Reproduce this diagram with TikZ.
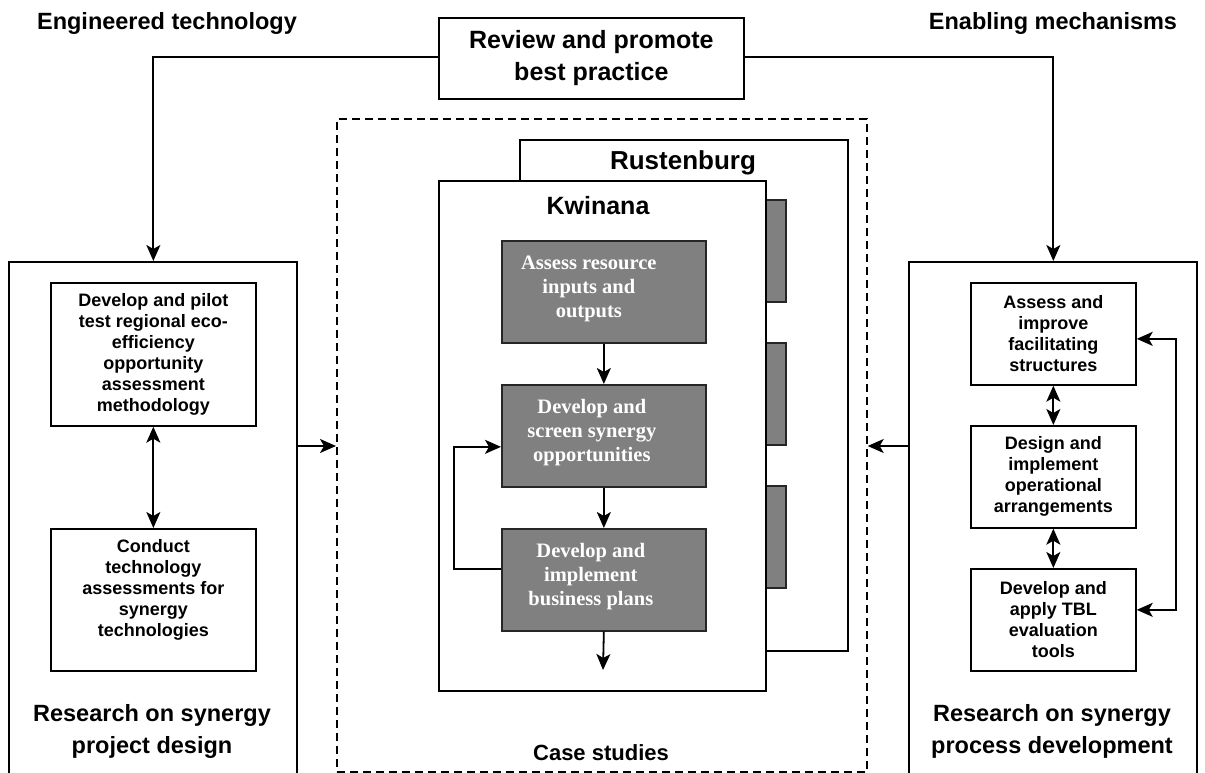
\documentclass[tikz,border=0pt]{standalone}
\usepackage{fontspec}
\setmainfont{Liberation Sans}
\newfontfamily\timesf{Liberation Serif}
\usetikzlibrary{arrows.meta}
\definecolor{boxgrey}{RGB}{128,128,128}
\newcommand\bodyf{\fontsize{18}{21}\selectfont\bfseries}
\newcommand\headf{\fontsize{23.5}{32}\selectfont\bfseries}
\newcommand\greyf{\fontsize{20.5}{24}\selectfont\timesf\bfseries}
\begin{document}
\begin{tikzpicture}[x=1pt,y=-1pt,
  box/.style={draw, line width=1.7pt, fill=white, align=center, font=\bodyf, inner sep=0pt, anchor=north west},
  frame/.style={draw, line width=1.6pt, fill=white, inner sep=0pt, anchor=north west},
  gbox/.style={draw=black!85, line width=1.7pt, fill=boxgrey, inner sep=0pt, anchor=north west, minimum width=204pt, minimum height=102pt},
  gtext/.style={text=white, align=center, font=\greyf, inner sep=0pt},
  tab/.style={draw=black!85, line width=1.7pt, fill=boxgrey},
  lbl/.style={font=\headf, align=center, inner sep=0pt},
  arr/.style={-{Stealth[length=16pt,width=14pt,inset=4pt]}, line width=1.8pt},
  darr/.style={{Stealth[length=16pt,width=14pt,inset=4pt]}-{Stealth[length=16pt,width=14pt,inset=4pt]}, line width=1.8pt}]
\useasboundingbox (0,0) rectangle (1205,773);

% headings
\node[lbl] (eng) at (167,23) {Engineered technology};
\node[lbl] (ena) at (1053,23) {Enabling mechanisms};
\node[box, minimum width=305pt, minimum height=81pt, font=\fontsize{25}{32}\selectfont\bfseries] (rev) at (438,17) {Review and promote\\best practice};

% case studies dashed frame
\node[draw, dash pattern=on 8pt off 5pt, line width=1.7pt, minimum width=530pt, minimum height=653pt, inner sep=0pt, anchor=north west] (cs) at (336,118) {};
\node[lbl, font=\fontsize{22}{28}\selectfont\bfseries] (cst) at (601,753) {Case studies};

% Rustenburg
\node[frame, minimum width=328pt, minimum height=511pt] (rus) at (519,139) {};
\node[lbl, font=\fontsize{26}{30}\selectfont\bfseries] (rust) at (683,163) {Rustenburg};
\draw[tab] (740,200) rectangle (786,302);
\draw[tab] (740,343) rectangle (786,445);
\draw[tab] (740,486) rectangle (786,588);

% Kwinana
\node[frame, minimum width=327pt, minimum height=510pt] (kwi) at (438,180) {};
\node[lbl, font=\fontsize{25}{30}\selectfont\bfseries] (kwit) at (598,206) {Kwinana};
\node[gbox] (g1) at (501,240) {};
\node[gtext] (g1t) at ([xshift=-15pt,yshift=3pt]g1.center) {Assess resource\\inputs and\\outputs};
\node[gbox] (g2) at (501,384) {};
\node[gtext] (g2t) at ([xshift=-12pt,yshift=3pt]g2.center) {Develop and\\screen synergy\\opportunities};
\node[gbox] (g3) at (501,528) {};
\node[gtext] (g3t) at ([xshift=-13pt,yshift=3pt]g3.center) {Develop and\\implement\\business plans};
\coordinate (gend) at (603,670);
\draw[arr] (g1.south) -- (g2.north);
\draw[arr] (g2.south) -- (g3.north);
\draw[arr] (g3.south) -- (gend);
\draw[arr] ([yshift=11pt]g3.west) -- ++(-47,0) |- ([yshift=-11pt]g2.west);

% left column
\node[frame, minimum width=288pt, minimum height=520pt] (lo) at (8,261) {};
\node[box, minimum width=205pt, minimum height=143pt] (l1) at (50,282) {Develop and pilot\\test regional eco-\\efficiency\\opportunity\\assessment\\methodology};
\node[box, minimum width=205pt, minimum height=142pt] (l2) at (50,528) {Conduct\\technology\\assessments for\\synergy\\technologies\\[2pt]};
\node[lbl] (lt) at (152,731) {Research on synergy\\project design};
\draw[darr] (l1.south) -- (l2.north);

% right column
\node[frame, minimum width=288pt, minimum height=520pt] (ro) at (908,261) {};
\node[box, minimum width=165pt, minimum height=102pt] (r1) at (970,282) {Assess and\\improve\\facilitating\\structures};
\node[box, minimum width=165pt, minimum height=102pt] (r2) at (970,425) {Design and\\implement\\operational\\arrangements};
\node[box, minimum width=165pt, minimum height=102pt] (r3) at (970,568) {Develop and\\apply TBL\\evaluation\\tools};
\node[lbl] (rt) at (1052,731) {Research on synergy\\process development};
\draw[darr] (r1.south) -- (r2.north);
\draw[darr] (r2.south) -- (r3.north);
\draw[darr] ([yshift=-5pt]r1.east) -- ++(39,0) |- ([yshift=10pt]r3.east);

% top connectors
\draw[arr] ([yshift=-40pt]rev.north west) -| (lo.north -| l1.north);
\draw[arr] ([yshift=-40pt]rev.north east) -| (ro.north -| r1.north);

% side arrows into case studies
\draw[arr] (lo.east |- 0,446) -- (cs.west |- 0,446);
\draw[arr] (ro.west |- 0,446) -- (cs.east |- 0,446);
\end{tikzpicture}
\end{document}
